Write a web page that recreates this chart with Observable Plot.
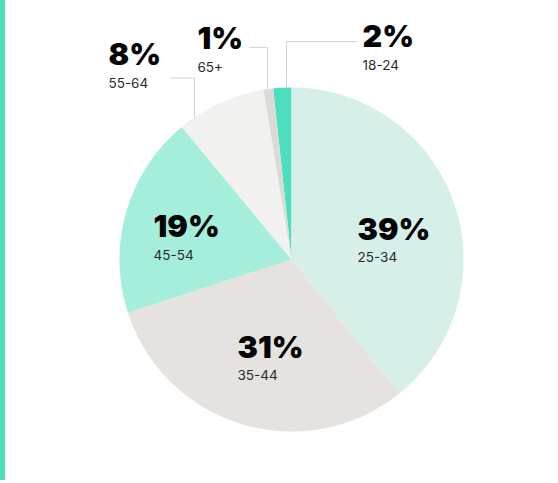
<!DOCTYPE html>
<html><head><meta charset="utf-8">
<script src="https://cdn.jsdelivr.net/npm/d3@7"></script>
<script src="https://cdn.jsdelivr.net/npm/@observablehq/plot@0.6"></script>
<style>
html,body{margin:0;padding:0;background:#fff;}
#wrap{position:relative;width:558px;height:483px;overflow:hidden;}
#wrap svg{position:absolute;left:0;top:0;}
#bar{position:absolute;left:0;top:0;width:5px;height:480px;background:#4de0bd;z-index:2;}
</style></head><body><div id="wrap"><div id="bar"></div></div>
<script>
// ---- data ----
const categories = ["18-24", "25-34", "35-44", "45-54", "55-64", "65+"];
const shares = [1.7, 39.2, 30.8, 19.0, 8.4, 0.9]; // percent of total
const percentLabels = shares.map(v => Math.round(v) + "%");

// ---- styles / layout ----
const colors = ["#4ddfbd", "#d6efe9", "#e5e2df", "#a4eedb", "#f1f1f0", "#dcdad7"];
const W = 558, H = 483, CX = 291, CY = 259, R = 172;
// label anchors in pie units (radius = 1, origin = pie centre)
const labelAt = {
  "18-24": [0.413, 1.233], "25-34": [0.384, 0.116], "35-44": [-0.314, -0.570],
  "45-54": [-0.802, 0.128], "55-64": [-1.064, 1.128], "65+": [-0.547, 1.221]
};
// leader lines: x on the arc, elbow height, end x (pie units)
const leaders = [
  {cat: "18-24", lx: -0.029, ey: 1.267, ex: 0.378},
  {cat: "65+", lx: -0.140, ey: 1.233, ex: -0.244},
  {cat: "55-64", lx: -0.564, ey: 1.055, ex: -0.703}
];

// ---- geometry from data ----
const total = d3.sum(shares);
const startAngle = -shares[0] / total * 360; // first slice ends at 12 o'clock
const wedges = [];
let acc = startAngle;
categories.forEach((cat, i) => {
  const a0 = acc, a1 = acc + shares[i] / total * 360;
  acc = a1;
  const n = Math.max(2, Math.ceil((a1 - a0) / 0.5));
  wedges.push({cat, x: 0, y: 0});
  for (let k = 0; k <= n; k++) {
    const a = (a0 + (a1 - a0) * k / n) * Math.PI / 180;
    wedges.push({cat, x: Math.sin(a), y: Math.cos(a)});
  }
});
const leaderPts = leaders.flatMap(l => [
  {cat: l.cat, x: l.lx, y: Math.sqrt(1 - l.lx * l.lx)},
  {cat: l.cat, x: l.lx, y: l.ey},
  {cat: l.cat, x: l.ex, y: l.ey}
]);
const labels = categories.map((cat, i) => ({cat, pct: percentLabels[i], x: labelAt[cat][0], y: labelAt[cat][1]}));

const chart = Plot.plot({
  width: W, height: H, margin: 0,
  x: {domain: [-CX / R, (W - CX) / R], axis: null},
  y: {domain: [-(H - CY) / R, CY / R], axis: null},
  color: {domain: categories, range: colors},
  style: {fontFamily: "Inter, 'Noto Sans', sans-serif", background: "transparent", overflow: "visible"},
  marks: [
    Plot.line(wedges, {x: "x", y: "y", z: "cat", fill: "cat", stroke: "none", curve: "linear-closed"}),
    Plot.line(leaderPts, {x: "x", y: "y", z: "cat", stroke: "#d2d2d2", strokeWidth: 1}),
    Plot.text(labels, {x: "x", y: "y", text: "pct", textAnchor: "start", lineAnchor: "bottom",
      fontSize: 30.5, fontWeight: 900, fill: "#050505"}),
    Plot.text(labels, {x: "x", y: "y", text: "cat", textAnchor: "start", lineAnchor: "bottom",
      dy: 22.5, fontSize: 13.5, fontWeight: 400, fill: "#2a2a2a"})
  ]
});
document.getElementById("wrap").appendChild(chart);
</script>
</body></html>
